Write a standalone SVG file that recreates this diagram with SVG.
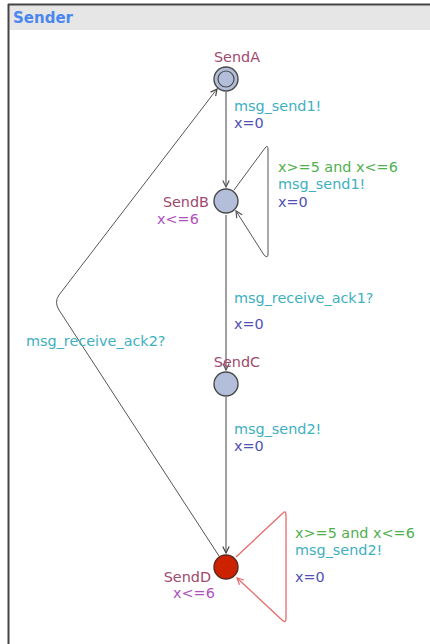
<svg xmlns="http://www.w3.org/2000/svg" width="430" height="644" viewBox="0 0 430 644">
  <style>
    text { font-family: "DejaVu Sans", Verdana, sans-serif; font-size: 14.4px; }
    .title { font-weight: bold; font-size: 15px; fill: #4a86f0; }
    .loc { fill: #a04a6e; }
    .inv { fill: #b050c0; }
    .guard { fill: #50b050; }
    .sync { fill: #40b0c0; }
    .upd { fill: #5050b8; }
    .node { fill: #b3bedb; stroke: #4a4a4a; stroke-width: 1.4; }
    .urgent { fill: #cc2200; stroke: #5a2a22; stroke-width: 1.4; }
    .edge-v { fill: none; stroke: #a0a0a0; stroke-width: 2; }
    .edge-d { fill: none; stroke: #555; stroke-width: 1; }
    .edge-r { fill: none; stroke: #e86a6a; stroke-width: 1.3; }
  </style>
  <defs>
    <marker id="arrGray" viewBox="0 0 10 10" refX="9" refY="5" markerWidth="8" markerHeight="8" markerUnits="userSpaceOnUse" orient="auto">
      <path d="M1,1 L9,5 L1,9" fill="none" stroke="#555" stroke-width="1.5"/>
    </marker>
    <marker id="arrDark" viewBox="0 0 10 10" refX="9" refY="5" markerWidth="8" markerHeight="8" markerUnits="userSpaceOnUse" orient="auto">
      <path d="M1,1 L9,5 L1,9" fill="none" stroke="#444" stroke-width="1.5"/>
    </marker>
    <marker id="arrRed" viewBox="0 0 10 10" refX="9" refY="5" markerWidth="8" markerHeight="8" markerUnits="userSpaceOnUse" orient="auto">
      <path d="M1,1 L9,5 L1,9" fill="none" stroke="#e86a6a" stroke-width="1.5"/>
    </marker>
  </defs>

  <!-- template frame -->
  <rect x="0" y="0" width="430" height="644" fill="#fff"/>
  <rect x="8" y="5" width="430" height="25" fill="#e6e6e6"/>
  <line x1="8" y1="4.5" x2="430" y2="4.5" stroke="#444" stroke-width="2"/>
  <line x1="8.5" y1="4" x2="8.5" y2="644" stroke="#444" stroke-width="2"/>
  <text class="title" x="13" y="23">Sender</text>

  <!-- transitions -->
  <g id="edges">
    <path class="edge-v" d="M226,92 L226,187" marker-end="url(#arrGray)"/>
    <path class="edge-v" d="M226,215 L226,370" marker-end="url(#arrGray)"/>
    <path class="edge-v" d="M226,397 L226,553" marker-end="url(#arrDark)"/>
    <path class="edge-d" d="M234,190 L265,148 Q268,144 268,150 L268,254 Q268,259 264,255 L236,211" marker-end="url(#arrGray)"/>
    <path class="edge-r" d="M236,557 L283,513 Q286,510 286,515 L286,618 Q286,624 282,620 L237,578" marker-end="url(#arrRed)"/>
    <path class="edge-d" d="M219,556 L59,310 Q54,302 59,295 L217,89" marker-end="url(#arrDark)"/>
  </g>

  <!-- edge labels -->
  <g id="labels">
    <text class="sync" x="234" y="111">msg_send1!</text>
    <text class="upd" x="234" y="128">x=0</text>
    <text class="guard" x="278" y="172">x&gt;=5 and x&lt;=6</text>
    <text class="sync" x="278" y="189">msg_send1!</text>
    <text class="upd" x="278" y="207">x=0</text>
    <text class="sync" x="234" y="303">msg_receive_ack1?</text>
    <text class="upd" x="234" y="329">x=0</text>
    <text class="sync" x="234" y="434">msg_send2!</text>
    <text class="upd" x="234" y="451">x=0</text>
    <text class="guard" x="295" y="538">x&gt;=5 and x&lt;=6</text>
    <text class="sync" x="295" y="555">msg_send2!</text>
    <text class="upd" x="295" y="582">x=0</text>
    <text class="sync" x="26" y="346">msg_receive_ack2?</text>
  </g>

  <!-- locations -->
  <g id="SendA">
    <circle class="node" cx="226" cy="79" r="12"/>
    <circle cx="226" cy="79" r="8" fill="none" stroke="#4a4a4a" stroke-width="1.2"/>
    <text class="loc" x="237" y="62" text-anchor="middle">SendA</text>
  </g>
  <g id="SendB">
    <circle class="node" cx="226" cy="201" r="12"/>
    <text class="loc" x="209" y="207" text-anchor="end">SendB</text>
    <text class="inv" x="157" y="224">x&lt;=6</text>
  </g>
  <g id="SendC">
    <circle class="node" cx="226" cy="384" r="12"/>
    <text class="loc" x="237" y="367" text-anchor="middle">SendC</text>
  </g>
  <g id="SendD">
    <circle class="urgent" cx="226" cy="567" r="12"/>
    <text class="loc" x="211" y="582" text-anchor="end">SendD</text>
    <text class="inv" x="173" y="598">x&lt;=6</text>
  </g>
</svg>
